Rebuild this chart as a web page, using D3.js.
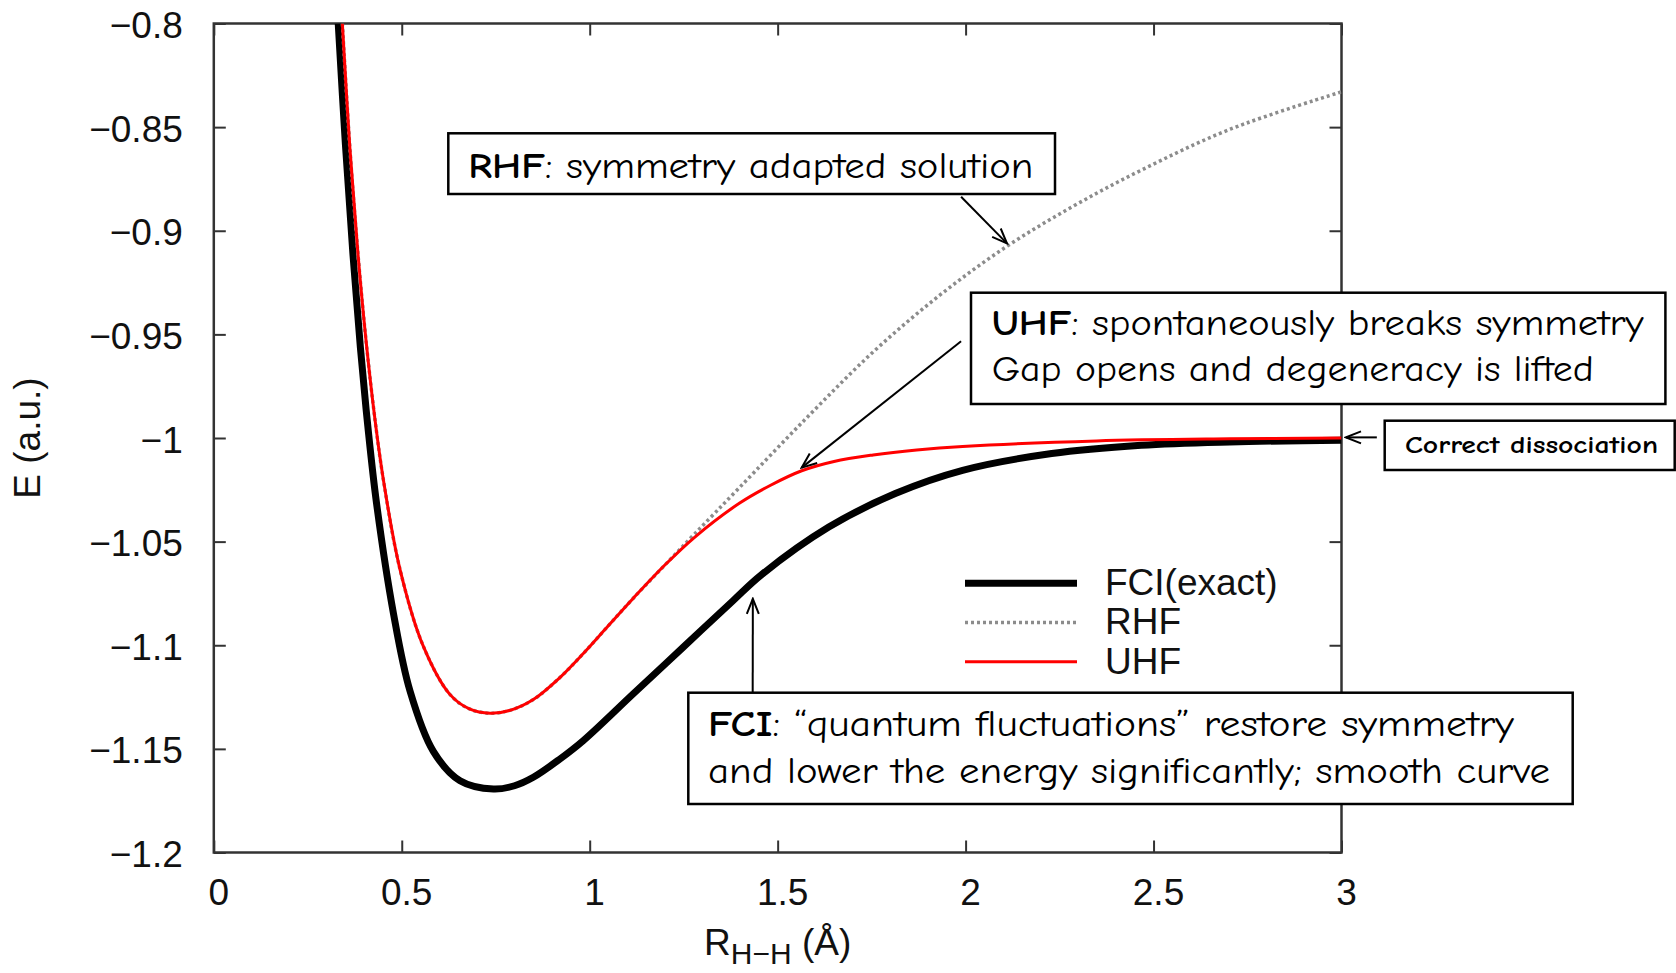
<!DOCTYPE html>
<html>
<head>
<meta charset="utf-8">
<script src="https://cdn.jsdelivr.net/npm/d3@7"></script>
<style>
  body { margin: 0; background: #fff; }
  svg { display: block; }
  .axis text { font-family: "Liberation Sans", Arial, Helvetica, sans-serif; font-size: 37px; fill: #111; }
  .axis line { stroke: #333; stroke-width: 2; }
  .label { font-family: "Liberation Sans", Arial, Helvetica, sans-serif; fill: #111; }
  .note { font-family: "Comic Sans MS", "Comic Neue", "Lato", sans-serif; fill: #000; }
</style>
</head>
<body>
<svg id="chart" width="1676" height="973"></svg>
<script>
"use strict"

// H2 dissociation curves, R in Å, E in a.u.
const fciR = [0.331, 0.350, 0.370, 0.390, 0.410, 0.433, 0.478, 0.522, 0.584, 0.655, 0.744, 0.800, 0.850, 0.920, 0.983, 1.116, 1.249, 1.382, 1.457, 1.636, 1.813, 1.992, 2.229, 2.467, 2.703, 3.0]
const fciE = [-0.800, -0.858, -0.911, -0.9564, -0.9948, -1.0316, -1.0847, -1.1221, -1.1512, -1.1654, -1.1694, -1.1678, -1.1637, -1.1550, -1.146, -1.1234, -1.1009, -1.0784, -1.066, -1.043, -1.0268, -1.0156, -1.0075, -1.0035, -1.0019, -1.0011]

const uhfR = [0.342, 0.362, 0.383, 0.405, 0.429, 0.451, 0.495, 0.557, 0.628, 0.680, 0.735, 0.790, 0.850, 0.920, 0.983, 1.050, 1.116, 1.200, 1.279, 1.398, 1.480, 1.564, 1.650, 1.754, 1.870, 1.992, 2.348, 2.703, 3.0]
const uhfE = [-0.800, -0.860, -0.910, -0.953, -0.9914, -1.020, -1.0631, -1.1003, -1.1237, -1.1307, -1.1328, -1.1313, -1.1262, -1.1157, -1.104, -1.0905, -1.0773, -1.0613, -1.0479, -1.0315, -1.0229, -1.0158, -1.0113, -1.0082, -1.0058, -1.0041, -1.0014, -1.0004, -1.0000]

const rhfR = [0.342, 0.362, 0.383, 0.405, 0.429, 0.451, 0.495, 0.557, 0.628, 0.680, 0.735, 0.790, 0.850, 0.920, 0.983, 1.050, 1.116, 1.200, 1.279, 1.398, 1.576, 1.754, 1.932, 2.110, 2.288, 2.467, 2.704, 3.0]
const rhfE = [-0.800, -0.860, -0.910, -0.953, -0.9914, -1.020, -1.0631, -1.1003, -1.1237, -1.1307, -1.1328, -1.1313, -1.1262, -1.1157, -1.104, -1.0905, -1.0773, -1.0613, -1.0463, -1.024, -0.9905, -0.9585, -0.931, -0.9075, -0.888, -0.8708, -0.851, -0.833]

const xTicks = [0, 0.5, 1, 1.5, 2, 2.5, 3]
const yTicks = [-1.2, -1.15, -1.1, -1.05, -1, -0.95, -0.9, -0.85, -0.8]

const seriesNames = ["FCI(exact)", "RHF", "UHF"]

const svg = d3.select("#chart")
const W = 1676, H = 973
const margin = {top: 23.5, right: 334.5, bottom: 120.5, left: 213.8}

const x = d3.scaleLinear().domain([0, 3]).range([margin.left, W - margin.right])
const y = d3.scaleLinear().domain([-1.2, -0.8]).range([H - margin.bottom, margin.top])
const fmt = d3.format("~g")

const zip = (rs, es) => rs.map((r, i) => ({r, e: es[i]}))
const series = [
  {name: seriesNames[0], data: zip(fciR, fciE), color: "#000", width: 7, dash: null},
  {name: seriesNames[1], data: zip(rhfR, rhfE), color: "#8c8c8c", width: 3.5, dash: "3,3"},
  {name: seriesNames[2], data: zip(uhfR, uhfE), color: "#f00", width: 3, dash: null},
]

// axes: gnuplot-style frame with inward ticks on all sides
svg.append("g").attr("class", "axis")
  .attr("transform", `translate(0,${y(-1.2)})`)
  .call(d3.axisBottom(x).tickValues(xTicks).tickFormat(fmt).tickSizeInner(-12).tickSizeOuter(0).tickPadding(26))
  .call(g => g.select(".domain").remove())
  .call(g => g.selectAll("text").attr("dx", "0.12em"))
svg.append("g").attr("class", "axis")
  .attr("transform", `translate(0,${y(-0.8)})`)
  .call(d3.axisTop(x).tickValues(xTicks).tickFormat("").tickSizeInner(-12).tickSizeOuter(0))
  .call(g => g.select(".domain").remove())
svg.append("g").attr("class", "axis")
  .attr("transform", `translate(${x(0)},0)`)
  .call(d3.axisLeft(y).tickValues(yTicks).tickFormat(fmt).tickSizeInner(-12).tickSizeOuter(0).tickPadding(31))
  .call(g => g.select(".domain").remove())
  .call(g => g.selectAll("text").attr("dy", "0.38em"))
svg.append("g").attr("class", "axis")
  .attr("transform", `translate(${x(3)},0)`)
  .call(d3.axisRight(y).tickValues(yTicks).tickFormat("").tickSizeInner(-12).tickSizeOuter(0))
  .call(g => g.select(".domain").remove())

svg.append("rect")
  .attr("x", x(0)).attr("y", y(-0.8))
  .attr("width", x(3) - x(0)).attr("height", y(-1.2) - y(-0.8))
  .attr("fill", "none").attr("stroke", "#333").attr("stroke-width", 2.5)

// axis titles
const xt = svg.append("text").attr("class", "label")
  .attr("x", (x(0) + x(3)) / 2).attr("y", 955)
  .attr("text-anchor", "middle").attr("font-size", 37)
xt.append("tspan").text("R")
xt.append("tspan").attr("font-size", 30).attr("dy", 9).text("H\u2212H")
xt.append("tspan").attr("dy", -9).text(" (Å)")

svg.append("text").attr("class", "label")
  .attr("transform", `translate(40,${(y(-0.8) + y(-1.2)) / 2}) rotate(-90)`)
  .attr("text-anchor", "middle").attr("font-size", 37)
  .text("E (a.u.)")

// curves
svg.append("clipPath").attr("id", "plot-clip")
  .append("rect")
  .attr("x", x(0)).attr("y", y(-0.8))
  .attr("width", x(3) - x(0)).attr("height", y(-1.2) - y(-0.8))

const line = d3.line().x(d => x(d.r)).y(d => y(d.e)).curve(d3.curveCatmullRom.alpha(0.5))

svg.append("g").attr("clip-path", "url(#plot-clip)")
  .selectAll("path")
  .data(series)
  .join("path")
    .attr("d", d => line(d.data))
    .attr("fill", "none")
    .attr("stroke", d => d.color)
    .attr("stroke-width", d => d.width)
    .attr("stroke-dasharray", d => d.dash)
    .attr("stroke-linejoin", "round")

// legend
const legend = svg.append("g")
  .selectAll("g")
  .data(series)
  .join("g")
    .attr("transform", (d, i) => `translate(965,${583.3 + i * 39.2})`)
legend.append("line")
  .attr("x1", 0).attr("x2", 112)
  .attr("stroke", d => d.color)
  .attr("stroke-width", d => d.width)
  .attr("stroke-dasharray", d => d.dash)
legend.append("text").attr("class", "label")
  .attr("x", 140).attr("dy", "0.32em")
  .attr("font-size", 37)
  .text(d => d.name)

// annotations
svg.append("defs").append("marker")
  .attr("id", "open-arrow")
  .attr("markerUnits", "userSpaceOnUse")
  .attr("viewBox", "-16 -8 18 16")
  .attr("refX", 0).attr("refY", 0)
  .attr("markerWidth", 18).attr("markerHeight", 16)
  .attr("orient", "auto")
  .append("path")
    .attr("d", "M-15,-6L0,0L-15,6")
    .attr("fill", "none").attr("stroke", "#000").attr("stroke-width", 2)

const arrows = [
  [1.988, -0.8836, 2.110, -0.9061],
  [1.988, -0.9533, 1.564, -1.0143],
  [1.4336, -1.1231, 1.434, -1.0776],
  [3.094, -0.9997, 3.012, -0.9997],
]
svg.append("g")
  .selectAll("line")
  .data(arrows)
  .join("line")
    .attr("x1", d => x(d[0])).attr("y1", d => y(d[1]))
    .attr("x2", d => x(d[2])).attr("y2", d => y(d[3]))
    .attr("stroke", "#000").attr("stroke-width", 2)
    .attr("marker-end", "url(#open-arrow)")

const notes = [
  {box: [448.3, 133.3, 606.7, 60.7], size: 37, lines: [
    {x: 468.3, y: 177.5, len: 565, parts: [["RHF", true], [": symmetry adapted solution", false]]},
  ]},
  {box: [971, 292.7, 694.4, 111.3], size: 37, lines: [
    {x: 991.7, y: 334.5, len: 652, parts: [["UHF", true], [": spontaneously breaks symmetry", false]]},
    {x: 991.7, y: 381.2, len: 602, parts: [["Gap opens and degeneracy is lifted", false]]},
  ]},
  {box: [1384.7, 420.7, 290, 49.3], size: 25, lines: [
    {x: 1405, y: 452.7, len: 253, parts: [["Correct dissociation", true]]},
  ]},
  {box: [688.3, 692.7, 884.4, 111.3], size: 37, lines: [
    {x: 708, y: 736.2, len: 806, parts: [["FCI", true], [": \u201cquantum fluctuations\u201d restore symmetry", false]]},
    {x: 708, y: 782.8, len: 842, parts: [["and lower the energy significantly; smooth curve", false]]},
  ]},
]

notes.forEach(n => {
  const g = svg.append("g")
  g.append("rect")
    .attr("x", n.box[0]).attr("y", n.box[1])
    .attr("width", n.box[2]).attr("height", n.box[3])
    .attr("fill", "#fff").attr("stroke", "#000").attr("stroke-width", 2.5)
  n.lines.forEach(l => {
    const t = g.append("text").attr("class", "note")
      .attr("x", l.x).attr("y", l.y)
      .attr("font-size", n.size)
      .attr("textLength", l.len)
      .attr("lengthAdjust", "spacingAndGlyphs")
    l.parts.forEach(([s, bold]) => t.append("tspan").attr("font-weight", bold ? "bold" : null).text(s))
  })
})
</script>
</body>
</html>
